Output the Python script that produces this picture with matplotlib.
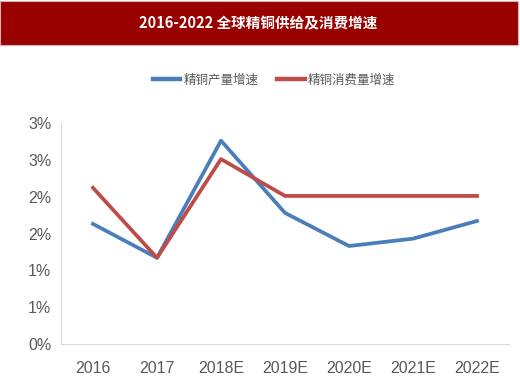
import matplotlib
matplotlib.use("Agg")
import matplotlib.pyplot as plt
from matplotlib.patches import Rectangle
from matplotlib.ticker import FuncFormatter
from matplotlib import font_manager

years = ["2016", "2017", "2018E", "2019E", "2020E", "2021E", "2022E"]
production = [1.63, 1.17, 2.76, 1.78, 1.33, 1.43, 1.67]
consumption = [2.12, 1.17, 2.51, 2.01, 2.01, 2.01, 2.01]
yticks = [0, 0.5, 1.0, 1.5, 2.0, 2.5, 3.0]

cjk = ["Noto Sans CJK SC", "DejaVu Sans"]
names = {f.name for f in font_manager.fontManager.ttflist}
narrow = "Liberation Sans Narrow" if "Liberation Sans Narrow" in names else "Liberation Sans"

fig = plt.figure(figsize=(5.2, 3.83), dpi=100)
fig.patches.append(Rectangle((0.0, 1 - 45 / 383), 518 / 520, 44 / 383,
                             transform=fig.transFigure, facecolor="#990000",
                             edgecolor="#d9b0b0", linewidth=0.8))
fig.text(0.497, 1 - 23 / 383, "2016-2022 全球精铜供给及消费增速", color="white",
         fontsize=10.5, fontweight="bold", ha="center", va="center", family=cjk)

ax = fig.add_axes([61 / 520, 39 / 383, 448 / 520, 221 / 383])
x = list(range(len(years)))
l1, = ax.plot(x, production, color="#4a7ebb", lw=2.7, label="精铜产量增速")
l2, = ax.plot(x, consumption, color="#be4b48", lw=2.7, label="精铜消费量增速")

ax.set_xlim(-0.5, len(years) - 0.5)
ax.set_ylim(0, 3.0)
ax.set_yticks(yticks)
ax.yaxis.set_major_formatter(FuncFormatter(lambda v, p: "%d%%" % int(v + 0.5)))
ax.set_xticks(x)
ax.set_xticklabels(years)
for s in ["top", "right"]:
    ax.spines[s].set_visible(False)
ax.spines["left"].set_color("#d9d9d9")
ax.spines["bottom"].set_color("#d9d9d9")
ax.tick_params(length=0, colors="#595959", labelsize=11.5, pad=7)
ax.tick_params(axis="x", pad=12)
for t in ax.get_xticklabels() + ax.get_yticklabels():
    t.set_family(narrow)

leg = fig.legend(handles=[l1, l2], loc="center", bbox_to_anchor=(274 / 520, 1 - 80 / 383),
                 ncol=2, frameon=False, handlelength=2.2, columnspacing=1.5,
                 handletextpad=0.25, prop={"family": cjk, "size": 9})
for t in leg.get_texts():
    t.set_color("#595959")
for h in leg.get_lines():
    h.set_linewidth(3.2)

fig.savefig("out.png", dpi=100)
